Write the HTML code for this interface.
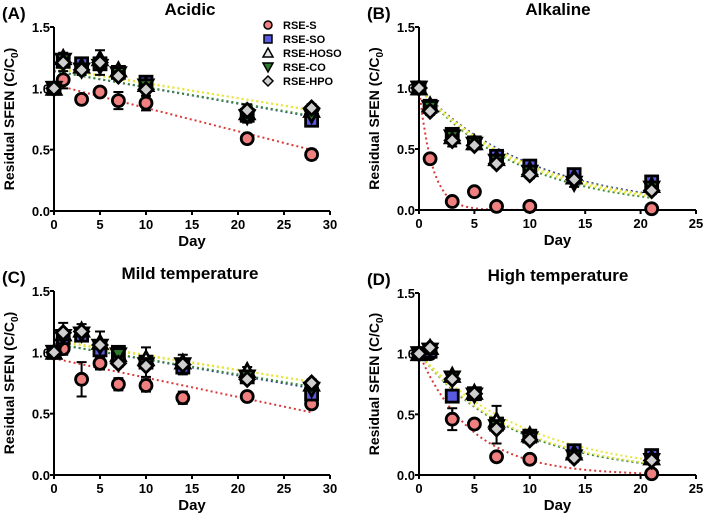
<!DOCTYPE html>
<html><head><meta charset="utf-8"><style>
body{margin:0;background:#fff;}
svg text{font-family:"Liberation Sans",Arial,sans-serif;font-weight:bold;}
</style></head><body>
<svg id="fig" width="708" height="520" viewBox="0 0 708 520" xmlns="http://www.w3.org/2000/svg"></svg>
<script>
// ---- data ----
const seriesNames = ["RSE-S","RSE-SO","RSE-HOSO","RSE-CO","RSE-HPO"];
const daysA = [0,1,3,5,7,10,21,28];
const A_S    = [1,1.07,0.91,0.97,0.90,0.88,0.59,0.46];
const A_SO   = [1,1.22,1.20,1.20,1.13,1.05,0.78,0.74];
const A_HOSO = [1,1.25,1.18,1.24,1.15,1.03,0.80,0.82];
const A_CO   = [1,1.23,1.15,1.18,1.12,1.02,0.77,0.78];
const A_HPO  = [1,1.21,1.15,1.21,1.10,0.99,0.82,0.84];
const A_errS = [0,0.07,0.03,0.02,0.07,0.06,0.02,0.04];
const A_errO = [0,0.04,0.04,0.07,0.03,0.05,0.05,0.03];
const daysB = [0,1,3,5,7,10,14,21];
const B_S    = [1,0.42,0.07,0.15,0.03,0.03,null,0.01];
const B_SO   = [1,0.85,0.62,0.55,0.44,0.36,0.29,0.23];
const B_HOSO = [1,0.86,0.60,0.55,0.42,0.33,0.27,0.20];
const B_CO   = [1,0.84,0.60,0.54,0.40,0.31,0.22,0.18];
const B_HPO  = [1,0.81,0.57,0.53,0.38,0.29,0.25,0.16];
const B_errS = [0,0.01,0.01,0.01,0.01,0.01,0,0.01];
const B_errO = [0,0.03,0.05,0.03,0.03,0.03,0.03,0.03];
const daysC = [0,1,3,5,7,10,14,21,28];
const C_S    = [1,1.03,0.78,0.91,0.74,0.73,0.63,0.64,0.58];
const C_SO   = [1,1.12,1.14,1.02,1.00,0.92,0.88,0.80,0.66];
const C_HOSO = [1,1.15,1.18,1.08,0.98,0.95,0.92,0.85,0.74];
const C_CO   = [1,1.13,1.15,1.05,0.98,0.90,0.90,0.80,0.70];
const C_HPO  = [1,1.16,1.17,1.06,0.91,0.89,0.90,0.78,0.75];
const C_errS = [0,0.05,0.14,0.05,0.05,0.05,0.05,0.03,0.02];
const C_errO = [0,0.08,0.05,0.09,0.03,0.09,0.06,0.03,0.03];
const daysD = [0,1,3,5,7,10,14,21];
const D_S    = [1,1.00,0.46,0.42,0.15,0.13,null,0.01];
const D_SO   = [1,1.02,0.65,0.67,0.42,0.32,0.20,0.16];
const D_HOSO = [1,1.05,0.82,0.68,0.45,0.33,0.18,0.14];
const D_CO   = [1,1.03,0.80,0.66,0.40,0.30,0.15,0.12];
const D_HPO  = [1,1.05,0.79,0.67,0.38,0.29,0.14,0.12];
const D_errS = [0,0.02,0.09,0.01,0.01,0.01,0,0.01];
const D_errO = [0,0.03,0.03,0.03,0.12,0.03,0.03,0.03];
const fitA = [[1.03,-0.019],[1.14,-0.0132],[1.17,-0.0125],[1.14,-0.013],[1.16,-0.012]];
const fitB = [[1,0.85],[1,0.097],[1,0.10],[1,0.11],[1,0.105]];
const fitC = [[0.95,-0.0157],[1.07,-0.0129],[1.10,-0.0121],[1.07,-0.0125],[1.09,-0.0118]];
const fitD = [[1,0.21],[1,0.115],[1,0.10],[1,0.115],[1,0.112]];
const xTicksA = [0,5,10,15,20,25,30];
const xTicksB = [0,5,10,15,20,25];
const yTicks = [0.0,0.5,1.0,1.5];

const NS="http://www.w3.org/2000/svg";
const svg=document.getElementById('fig');
function mk(tag,attrs,parent){const e=document.createElementNS(NS,tag);for(const k in attrs)e.setAttribute(k,attrs[k]);(parent||svg).appendChild(e);return e;}
const fillC=["#f08080","#5a5ae0","#e8e8e8","#2e7d2e","#cfcfcf"];
const lineC=["#d83a3a","#2a3d8f","#e6e640","#3a8a3a","#e6e640"];

function marker(g,i,x,y,r,sw){
  let e;
  if(i===0) e=mk('circle',{cx:x,cy:y,r:r},g);
  else if(i===1) e=mk('rect',{x:x-r,y:y-r,width:2*r,height:2*r},g);
  else if(i===2) e=mk('polygon',{points:`${x},${y-r-1} ${x+r+1},${y+r} ${x-r-1},${y+r}`},g);
  else if(i===3) e=mk('polygon',{points:`${x-r-1},${y-r} ${x+r+1},${y-r} ${x},${y+r+1}`},g);
  else e=mk('polygon',{points:`${x},${y-r-1} ${x+r+1},${y} ${x},${y+r+1} ${x-r-1},${y}`},g);
  e.setAttribute('fill',fillC[i]);e.setAttribute('stroke','#000');e.setAttribute('stroke-width',sw||'2.8');
  return e;
}

function panel(o){
  const g=mk('g',{});
  
  
  const xs=d=>o.x0+(d/o.xmax)*(o.x1-o.x0);
  const ys=v=>o.y0-(v/1.5)*(o.y0-o.y1);
  o.fits.forEach((f,i)=>{
    let pts=[];
    for(let s=0;s<=60;s++){const d=o.fitEnd*s/60;let v=o.exp?f[0]*Math.exp(-f[1]*d):f[0]+f[1]*d;pts.push(xs(d).toFixed(1)+','+ys(Math.max(v,0)).toFixed(1));}
    const p=mk('polyline',{points:pts.join(' '),fill:'none',stroke:lineC[i],'stroke-width':2,'stroke-dasharray':'2,3'},g);
    
    
  });
  const ax=mk('path',{d:`M${o.x0},${o.y1} V${o.y0} H${o.x1}`,fill:'none',stroke:'#000','stroke-width':2},g);
  
  
  yTicks.forEach(t=>{
    mk('line',{x1:o.x0-4,x2:o.x0,y1:ys(t),y2:ys(t),stroke:'#000','stroke-width':2},g);
    const tx=mk('text',{x:o.x0-4,y:ys(t)+5,'text-anchor':'end','font-size':13},g);tx.textContent=t.toFixed(1);
    
    
  });
  o.xticks.forEach(t=>{
    mk('line',{x1:xs(t),x2:xs(t),y1:o.y0,y2:o.y0+4,stroke:'#000','stroke-width':2},g);
    const tx=mk('text',{x:xs(t),y:o.y0+18,'text-anchor':'middle','font-size':13},g);tx.textContent=t;
    
    
  });
  const xl=mk('text',{x:(o.x0+o.x1)/2,y:o.y0+35,'text-anchor':'middle','font-size':15},g);xl.textContent='Day';
  
  
  const cy=(o.y0+o.y1)/2, lx=o.x0-40;
  const yl=mk('text',{x:lx,y:cy,'text-anchor':'middle','font-size':14,transform:`rotate(-90 ${lx} ${cy})`},g);
  yl.innerHTML='Residual SFEN (C/C<tspan font-size="10" dy="4">0</tspan><tspan dy="-4">)</tspan>';
  
  
  const tl=mk('text',{x:o.tx,y:o.y1-12,'text-anchor':'middle','font-size':17},g);tl.textContent=o.title;
  
  
  const lb=mk('text',{x:o.lx,y:o.y1-8,'font-size':17},g);lb.textContent=o.label;
  
  
  // error bars
  [0,1].forEach(k=>{
    const err=k===0?o.errS:o.errO;
    const src=k===0?[o.data[0]]:o.data.slice(1);
    o.days.forEach((d,j)=>{
      const vals=src.map(a=>a[j]).filter(v=>v!==null);
      if(!vals.length||!err[j]) return;
      const lo=Math.min(...vals)-err[j], hi=Math.max(...vals)+err[j];
      const x=xs(d);
      const e=mk('path',{d:`M${x},${ys(lo)}V${ys(hi)}M${x-5},${ys(lo)}H${x+5}M${x-5},${ys(hi)}H${x+5}`,stroke:'#000','stroke-width':2,fill:'none'},g);
      
      
    });
  });
  [0,1,2,3,4].forEach(i=>{
    o.data[i].forEach((v,j)=>{
      if(v===null) return;
      const m=marker(g,i,xs(o.days[j]),ys(v),6);
      
      
    });
  });
}

panel({id:'acidic',x0:54,x1:330,y0:211,y1:27,xmax:30,fitEnd:28,exp:false,xticks:xTicksA,days:daysA,
  data:[A_S,A_SO,A_HOSO,A_CO,A_HPO],errS:A_errS,errO:A_errO,fits:fitA,title:'Acidic',tx:190,lx:2,label:'(A)'});
panel({id:'alkaline',x0:419,x1:696,y0:210,y1:27,xmax:25,fitEnd:21,exp:true,xticks:xTicksB,days:daysB,
  data:[B_S,B_SO,B_HOSO,B_CO,B_HPO],errS:B_errS,errO:B_errO,fits:fitB,title:'Alkaline',tx:558,lx:367,label:'(B)'});
panel({id:'mild-temperature',x0:54,x1:330,y0:475,y1:291,xmax:30,fitEnd:28,exp:false,xticks:xTicksA,days:daysC,
  data:[C_S,C_SO,C_HOSO,C_CO,C_HPO],errS:C_errS,errO:C_errO,fits:fitC,title:'Mild temperature',tx:190,lx:2,label:'(C)'});
panel({id:'high-temperature',x0:419,x1:696,y0:475,y1:293,xmax:25,fitEnd:21,exp:true,xticks:xTicksB,days:daysD,
  data:[D_S,D_SO,D_HOSO,D_CO,D_HPO],errS:D_errS,errO:D_errO,fits:fitD,title:'High temperature',tx:558,lx:367,label:'(D)'});

const lg=mk('g',{});


seriesNames.forEach((n,i)=>{
  const y=25+i*14;
  const m=marker(lg,i,268,y,4,'1.5');
  
  
  const t=mk('text',{x:283,y:y+4,'font-size':11},lg);t.textContent=n;
  
  
});
</script>
</body></html>
